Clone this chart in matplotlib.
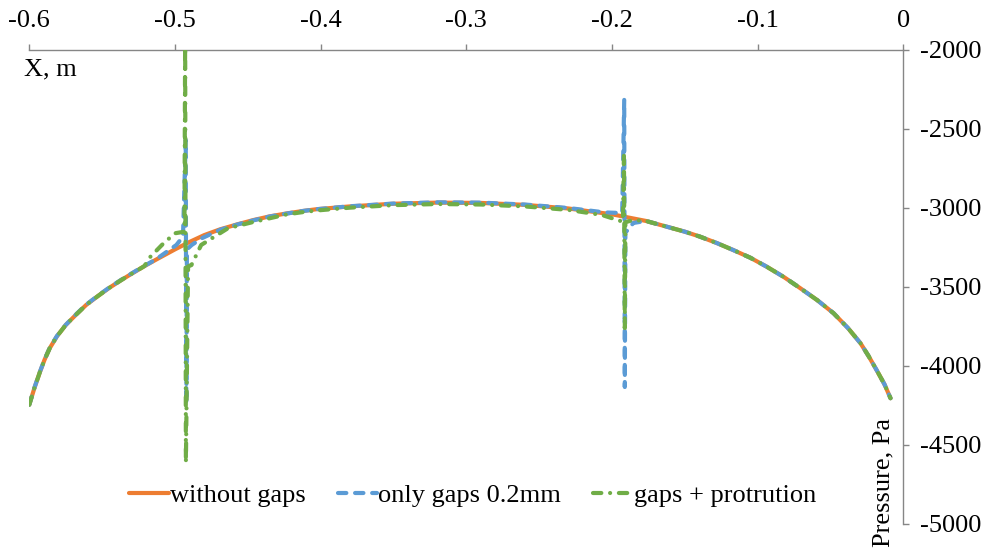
import matplotlib
matplotlib.use("Agg")
import matplotlib.pyplot as plt

plt.rcParams["font.family"] = ["Liberation Serif", "DejaVu Serif"]
plt.rcParams["axes.unicode_minus"] = False

# Pressure along the surface, smooth case (no gaps)
x_smooth = [-0.600, -0.5965, -0.593, -0.5895, -0.586, -0.581, -0.575, -0.568, -0.561,
            -0.553, -0.545, -0.537, -0.529, -0.521, -0.513, -0.500, -0.490, -0.480,
            -0.469, -0.457, -0.446, -0.435, -0.423, -0.413, -0.403, -0.380, -0.350,
            -0.320, -0.290, -0.260, -0.230, -0.200, -0.1767, -0.1625, -0.150,
            -0.1397, -0.128, -0.1168, -0.105, -0.0939, -0.082, -0.0707, -0.059,
            -0.0479, -0.038, -0.0294, -0.024, -0.0184, -0.013, -0.0088]
p_smooth = [-4245, -4140, -4046, -3960, -3888, -3812, -3741, -3676, -3614,
            -3558, -3505, -3457, -3412, -3368, -3327, -3262, -3215, -3172,
            -3135, -3103, -3076, -3053, -3034, -3020, -3008, -2990, -2973,
            -2966, -2968, -2980, -3003, -3040, -3082, -3118, -3150,
            -3181, -3222, -3266, -3315, -3371, -3437, -3508, -3584,
            -3666, -3760, -3856, -3935, -4025, -4115, -4204]

# Gaps of 0.2 mm only
x_gaps = [-0.600, -0.5965, -0.593, -0.5895, -0.586, -0.581, -0.575, -0.568, -0.561,
          -0.553, -0.545, -0.537, -0.529, -0.521, -0.513, -0.4990, -0.4945, -0.4926,
          -0.4922, -0.4918, -0.4885, -0.4817, -0.469, -0.457, -0.446, -0.435, -0.423,
          -0.413, -0.403, -0.380, -0.350, -0.320, -0.290, -0.260, -0.230, -0.2050,
          -0.1930, -0.1916, -0.1912, -0.1908, -0.1885, -0.1855, -0.1767, -0.1625,
          -0.150, -0.1397, -0.128, -0.1168, -0.105, -0.0939, -0.082, -0.0707,
          -0.059, -0.0479, -0.038, -0.0294, -0.024, -0.0184, -0.013, -0.0088]
p_gaps = [-4245, -4138, -4044, -3958, -3886, -3810, -3740, -3674, -3612,
          -3556, -3503, -3455, -3410, -3366, -3325, -3234, -3181, -2570,
          -4235, -3262, -3234, -3192, -3138, -3104, -3078, -3054, -3035,
          -3020, -3008, -2989, -2972, -2964, -2966, -2978, -3000, -3028,
          -3032, -2316, -4133, -3150, -3139, -3095, -3082, -3118,
          -3150, -3181, -3222, -3266, -3315, -3371, -3437, -3508,
          -3584, -3666, -3760, -3856, -3935, -4025, -4115, -4204]

# Gaps plus protrusion
x_prot = [-0.600, -0.5965, -0.593, -0.5895, -0.586, -0.581, -0.575, -0.568, -0.561,
          -0.553, -0.545, -0.537, -0.529, -0.521, -0.517, -0.508, -0.500, -0.4935,
          -0.4930, -0.4925, -0.4910, -0.4887, -0.4820, -0.4636, -0.446, -0.423,
          -0.413, -0.403, -0.380, -0.350, -0.320, -0.290, -0.260, -0.230, -0.207,
          -0.1925, -0.1918, -0.1912, -0.1908, -0.1855, -0.1767, -0.1625, -0.150,
          -0.1397, -0.128, -0.1168, -0.105, -0.0939, -0.082, -0.0707, -0.059,
          -0.0479, -0.038, -0.0294, -0.024, -0.0184, -0.013, -0.0088]
p_prot = [-4245, -4140, -4046, -3960, -3888, -3812, -3741, -3676, -3614,
          -3558, -3505, -3457, -3412, -3368, -3310, -3225, -3160, -3150,
          -1900, -4614, -3370, -3361, -3234, -3128, -3088, -3040,
          -3027, -3016, -2998, -2982, -2975, -2978, -2990, -3012, -3044,
          -3087, -2665, -3760, -3090, -3076, -3082, -3118, -3150,
          -3181, -3222, -3266, -3315, -3371, -3437, -3508, -3584,
          -3666, -3760, -3856, -3935, -4025, -4115, -4204]

x_ticks = [-0.6, -0.5, -0.4, -0.3, -0.2, -0.1, 0.0]
x_tick_labels = ["-0.6", "-0.5", "-0.4", "-0.3", "-0.2", "-0.1", "0"]
y_ticks = [-2000, -2500, -3000, -3500, -4000, -4500, -5000]

ORANGE = "#ED7D31"
BLUE = "#5B9BD5"
GREEN = "#70AD47"
AXIS_GREY = "#868686"
FS = 19

fig = plt.figure(figsize=(9.93, 5.50), dpi=100)
ax = fig.add_axes([0.0295, 0.0473, 0.8802, 0.8618])

lw = 3.0
ax.plot(x_smooth, p_smooth, color=ORANGE, lw=lw, solid_capstyle="round",
        solid_joinstyle="round", label="without gaps", zorder=3)
ax.plot(x_gaps, p_gaps, color=BLUE, lw=lw, linestyle=(0, (2.0, 2.1)),
        dash_capstyle="round", dash_joinstyle="round",
        label="only gaps 0.2mm", zorder=4)
ax.plot(x_prot, p_prot, color=GREEN, lw=lw, linestyle=(0, (2.0, 2.1, 0.01, 2.1)),
        dash_capstyle="round", dash_joinstyle="round",
        label="gaps + protrution", zorder=5)

ax.set_xlim(-0.6, 0.0)
ax.set_ylim(-5000, -2000)

ax.xaxis.tick_top()
ax.yaxis.tick_right()
ax.set_xticks(x_ticks)
ax.set_xticklabels(x_tick_labels)
ax.set_yticks(y_ticks)
ax.set_yticklabels([str(v) for v in y_ticks])

for side in ("left", "bottom"):
    ax.spines[side].set_visible(False)
for side in ("top", "right"):
    ax.spines[side].set_color(AXIS_GREY)
    ax.spines[side].set_linewidth(1.0)

ax.tick_params(axis="x", direction="out", length=4, width=1.0, color=AXIS_GREY,
               labelsize=FS, pad=9, top=True, bottom=False)
ax.tick_params(axis="y", direction="out", length=4, width=1.0, color=AXIS_GREY,
               labelsize=FS, pad=8, right=True, left=False)

ax.text(-0.006, 0.958, "X, m", transform=ax.transAxes, fontsize=FS,
        ha="left", va="center")
ax.text(0.977, 0.088, "Pressure, Pa", transform=ax.transAxes, fontsize=FS,
        rotation=90, ha="center", va="center")

leg = fig.legend(loc="center", bbox_to_anchor=(0.476, 0.10), ncol=3,
                 frameon=False, fontsize=FS, handlelength=1.5,
                 handletextpad=0.05, columnspacing=1.2)

fig.savefig("out.png", dpi=100)
